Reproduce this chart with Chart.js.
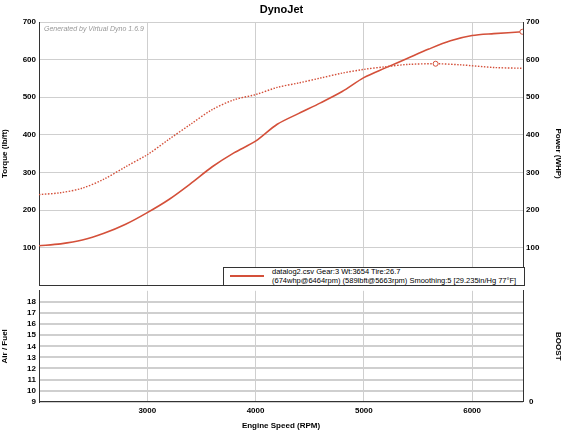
<!DOCTYPE html>
<html>
<head>
<meta charset="utf-8">
<script src="https://cdn.jsdelivr.net/npm/chart.js@4"></script>
<style>
body { margin: 0; background: #fff; font-family: "Liberation Sans", Arial, sans-serif; }
#wrap { position: relative; width: 563px; height: 435px; }
#top { position: absolute; left: 0; top: 0; width: 563px; height: 293px; }
#bot { position: absolute; left: 0; top: 280px; width: 563px; height: 155px; }
#title { position: absolute; left: 0; width: 563px; top: 3px; text-align: center; font-weight: bold; font-size: 11px; }
#mark { position: absolute; left: 44px; top: 25px; font-size: 7px; font-style: italic; color: #999; }
#legend { position: absolute; left: 223px; top: 267px; width: 300px; height: 17px; border: 1px solid #333; background: #fff; font-size: 7.5px; line-height: 8.5px; }
#legend .sw { position: absolute; left: 6px; top: 7px; width: 34px; height: 2px; background: #d4503a; }
#legend .tx { position: absolute; left: 48px; top: 0px; white-space: nowrap; }
</style>
</head>
<body>
<div id="wrap">
  <div id="bot"><canvas id="botChart"></canvas></div>
  <div id="top"><canvas id="topChart"></canvas></div>
  <div id="title">DynoJet</div>
  <div id="mark">Generated by Virtual Dyno 1.6.9</div>
  <div id="legend"><div class="sw"></div><div class="tx">datalog2.csv Gear:3 Wt:3654 Tire:26.7<br>(674whp@6464rpm) (589lbft@5663rpm) Smoothing:5 [29.235in/Hg 77°F]</div></div>
</div>
<script>
const powerRpm = [2000, 2200, 2400, 2600, 2800, 3000, 3200, 3400, 3600, 3800, 4000, 4200, 4400, 4600, 4800, 5000, 5200, 5400, 5600, 5800, 6000, 6200, 6464];
const powerWhp = [105, 110, 120, 138, 162, 193, 228, 270, 315, 352, 383, 428, 457, 485, 515, 552, 578, 603, 628, 650, 664, 669, 674];
const torqueRpm = [2000, 2200, 2400, 2600, 2800, 3000, 3200, 3400, 3600, 3800, 4000, 4200, 4400, 4600, 4800, 5000, 5200, 5400, 5663, 5900, 6200, 6464];
const torqueLbft = [241, 246, 258, 282, 315, 347, 388, 428, 467, 493, 507, 526, 538, 551, 564, 574, 581, 587, 589, 586, 579, 577];
const topTicks = [100, 200, 300, 400, 500, 600, 700];
const afrTicks = [9, 10, 11, 12, 13, 14, 15, 16, 17, 18];
const rpmTicks = [3000, 4000, 5000, 6000];

const red = '#d4503a';
const gridCol = '#cfcfcf';
const tickFont = { family: 'Liberation Sans', size: 8, weight: 'bold' };
const titleFont = { family: 'Liberation Sans', size: 8, weight: 'bold' };
Chart.defaults.color = '#000';
Chart.defaults.animation = false;

function fixWidth(w) { return function (axis) { axis.width = w; }; }
function fixHeight(h) { return function (axis) { axis.height = h; }; }

const xBase = {
    type: 'linear', min: 2000, max: 6470,
    afterBuildTicks: a => { a.ticks = rpmTicks.map(v => ({ value: v })); },
    grid: { color: gridCol, drawTicks: false },
    border: { color: '#333' }
};

new Chart(document.getElementById('topChart'), {
    type: 'line',
    data: {
        datasets: [
            {
                label: 'Power', yAxisID: 'y2', borderColor: red, borderWidth: 1.6, tension: 0.3,
                data: powerRpm.map((r, i) => ({ x: r, y: powerWhp[i] })),
                pointRadius: ctx => ctx.dataIndex === powerRpm.length - 1 ? 2.5 : 0,
                pointBackgroundColor: '#fff', pointBorderColor: red, pointBorderWidth: 1
            },
            {
                label: 'Torque', yAxisID: 'y', borderColor: red, borderWidth: 1.4, borderDash: [1.5, 1.5], tension: 0.3,
                data: torqueRpm.map((r, i) => ({ x: r, y: torqueLbft[i] })),
                pointRadius: ctx => torqueLbft[ctx.dataIndex] === Math.max(...torqueLbft) ? 2.5 : 0,
                pointBackgroundColor: '#fff', pointBorderColor: red, pointBorderWidth: 1
            }
        ]
    },
    options: {
        responsive: true, maintainAspectRatio: false,
        layout: { padding: { top: 22, bottom: 0 } },
        plugins: { legend: { display: false }, tooltip: { enabled: false } },
        scales: {
            x: { ...xBase, ticks: { display: false }, afterFit: fixHeight(0) },
            y: {
                min: 0, max: 700, afterFit: fixWidth(39),
                afterBuildTicks: a => { a.ticks = topTicks.map(v => ({ value: v })); },
                ticks: { font: tickFont, padding: 3 },
                grid: { color: gridCol, drawTicks: false }, border: { color: '#333' },
                title: { display: true, text: 'Torque (lb/ft)', font: titleFont, padding: 0 }
            },
            y2: {
                position: 'right', min: 0, max: 700, afterFit: fixWidth(40),
                afterBuildTicks: a => { a.ticks = topTicks.map(v => ({ value: v })); },
                ticks: { font: tickFont, padding: 3 },
                grid: { display: false, drawTicks: false }, border: { color: '#333' },
                title: { display: true, text: 'Power (WHP)', font: titleFont, padding: 0 }
            }
        }
    }
});

new Chart(document.getElementById('botChart'), {
    type: 'line',
    data: { datasets: [{ label: 'AFR', data: [], yAxisID: 'y' }] },
    options: {
        responsive: true, maintainAspectRatio: false,
        layout: { padding: { top: 3, bottom: 4 } },
        plugins: { legend: { display: false }, tooltip: { enabled: false } },
        scales: {
            x: {
                ...xBase,
                ticks: { font: tickFont, padding: 4, callback: v => String(v) },
                title: { display: true, text: 'Engine Speed (RPM)', font: titleFont, padding: { top: 2, bottom: 0 } }
            },
            y: {
                min: 9, max: 19, afterFit: fixWidth(39),
                afterBuildTicks: a => { a.ticks = afrTicks.map(v => ({ value: v })); },
                ticks: { font: tickFont, padding: 3, autoSkip: false },
                grid: { color: gridCol, lineWidth: 2, drawTicks: false }, border: { color: '#333' },
                title: { display: true, text: 'Air / Fuel', font: titleFont, padding: 0 }
            },
            y2: {
                position: 'right', min: 0, max: 10, afterFit: fixWidth(40),
                afterBuildTicks: a => { a.ticks = [{ value: 0 }]; },
                ticks: { font: tickFont, padding: 6 },
                grid: { display: false, drawTicks: false }, border: { color: '#333' },
                title: { display: true, text: 'BOOST', font: titleFont, padding: 0 }
            }
        }
    }
});
</script>
</body>
</html>
